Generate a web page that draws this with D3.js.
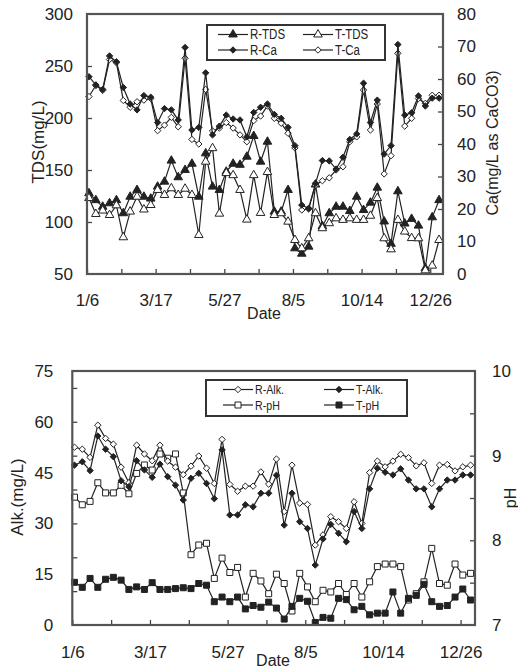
<!DOCTYPE html>
<meta charset="utf-8">
<style>
  body { margin:0; background:#fff; }
  text { font-family:'Liberation Sans', Arial, sans-serif; fill:#222; }
</style>
<script src="https://d3js.org/d3.v7.min.js"></script>
<body>
<svg id="chart" width="518" height="669"></svg>
<script>

// weekly samples, days counted from 1/6
var sampleDays = [2,9,16,23,30,37,44,51,58,65,72,79,86,93,100,107,114,121,128,135,142,149,156,163,170,177,
                  184,191,198,205,212,219,226,233,240,247,254,261,268,275,282,289,296,303,310,317,324,331,338,345,352,359]
var tickDays = [0,35,70,105,140,175,210,245,280,315,350]
var dateLabels = ["1/6","","3/17","","5/27","","8/5","","10/14","","12/26"]

// upper chart
var rTds = [127.6,121,114.7,118,121,108.4,124.3,130.8,124.3,122.5,134,138.8,159,143,150,156,124.3,166,134,130.8,148.4,156,155,162.8,182.7,158,
            177.2,110,110,130.8,74.7,69.5,76.3,136,96,108.4,114.7,114.7,110.6,124.3,111.5,118.6,133,100.5,79,129.5,98.5,103,96.5,55.5,104.5,121]
var tTds = [123,107.7,111,106.7,116,85.3,110,124.3,112,116.3,130.8,126,132.4,126,132,126,87.5,158,171,108,147,145,130.8,102.3,145,108.7,
            148,106.7,108.4,100.3,82.7,74.7,84.3,108.4,94,98.8,103.5,102,103.5,102,102,106,123,84.3,73.7,102,90.8,84.5,84.3,53.5,58,82.7]
var rCa = [60.7,58.2,56.8,67.1,65.3,57.4,52.3,50.5,54.9,54.4,46.6,50.9,50.5,47.4,69.7,44.3,45.1,61.9,42.8,45.5,48.9,47.7,47.4,42.2,49.7,51.3,
           52.3,49.1,47.9,45.1,39.5,21.2,20.2,27.9,34.9,34.8,32.3,35.9,41.4,43.1,58.7,46.6,53.5,36.9,39.5,70.6,48.9,49.6,54.8,51.7,54.1,54.1]
var tCa = [54.6,58.0,56.5,66.0,65.0,53.4,51.3,53.0,53.5,54.0,44.1,45.8,48.2,45.3,66.4,41.4,40.0,56.8,44.0,44.9,46.6,44.9,42.8,40.7,47.2,48.6,
           51.7,47.9,46.4,43.3,38.8,19.7,20.0,27.4,28.7,29.6,32.0,33.0,40.7,42.2,56.6,44.3,52.3,30.8,36.4,67.9,45.5,47.9,54.0,52.5,55.0,55.0]

// lower chart
var rAlk = [52.5,51.9,49.5,59.0,55.1,53.4,46.6,42.0,53.1,50.5,48.5,53.1,48.4,46.6,44.4,46.9,49.9,46.3,41.8,54.8,41.5,39.5,41.0,41.0,45.2,41.6,
            49.0,33.5,47.2,36.0,35.6,23.6,26.6,32.0,30.5,28.5,36.4,30.0,45.0,48.4,46.7,48.4,50.4,49.4,47.0,47.9,41.8,47.2,47.4,45.5,46.7,47.2]
var tAlk = [47.2,48.2,45.6,55.8,51.9,49.7,42.6,40.8,48.5,45.8,43.6,47.5,43.8,41.3,36.9,43.3,44.8,41.8,37.3,51.7,32.5,32.5,35.5,34.9,38.9,38.9,
            44.2,29.5,38.9,30.5,28.5,17.7,25.4,29.7,27.1,24.6,33.5,28.5,40.2,46.3,45.1,44.3,46.1,42.8,40.2,40.2,34.9,40.2,42.8,42.8,44.3,44.3]
var rPh = [8.51,8.42,8.46,8.68,8.56,8.56,8.65,8.55,8.79,8.89,8.83,9.02,8.97,9.02,8.56,7.83,7.945,7.965,7.55,7.79,7.62,7.68,7.33,7.61,7.52,7.37,
           7.6,7.49,7.165,7.61,7.45,7.275,7.41,7.39,7.49,7.36,7.49,7.33,7.51,7.69,7.72,7.72,7.69,7.295,7.37,7.51,7.905,7.49,7.47,7.72,7.59,7.61]
var tPh = [7.504,7.445,7.55,7.445,7.54,7.563,7.53,7.42,7.45,7.42,7.50,7.42,7.42,7.43,7.44,7.43,7.49,7.47,7.275,7.33,7.275,7.33,7.19,7.23,7.21,7.27,
           7.20,7.07,7.22,7.315,7.28,7.03,7.09,7.08,7.315,7.30,7.18,7.22,7.12,7.14,7.14,7.39,7.14,7.315,7.35,7.48,7.275,7.22,7.23,7.33,7.425,7.295]

var svg = d3.select("#chart")

var ink = "#222"

function drawPanel(p) {
  var g = svg.append("g")

  var x = d3.scaleLinear().domain([0, 363]).range([p.left, p.right])
  var yL = d3.scaleLinear().domain(p.leftDomain).range([p.bottom, p.top])
  var yR = d3.scaleLinear().domain(p.rightDomain).range([p.bottom, p.top])

  // x axis: inward ticks, labels every other tick
  var xa = g.append("g")
    .attr("transform", "translate(0," + p.bottom + ")")
    .call(d3.axisBottom(x).tickValues(tickDays).tickSize(-5).tickPadding(p.xPad)
      .tickFormat(function(d, i){ return dateLabels[i] }))
  xa.select(".domain").remove()

  // left axis (marks and labels may use different steps)
  var la = g.append("g").attr("transform", "translate(" + p.left + ",0)")
    .call(d3.axisLeft(yL).tickValues(p.leftMarks).tickSize(-5).tickFormat(""))
  la.select(".domain").remove()
  var ll = g.append("g").attr("transform", "translate(" + p.left + ",0)")
    .call(d3.axisLeft(yL).tickValues(p.leftLabels).tickSize(0).tickPadding(p.lPad))
  ll.select(".domain").remove()

  var ra = g.append("g").attr("transform", "translate(" + p.right + ",0)")
    .call(d3.axisRight(yR).tickValues(p.rightMarks).tickSize(-5).tickFormat(""))
  ra.select(".domain").remove()
  var rl = g.append("g").attr("transform", "translate(" + p.right + ",0)")
    .call(d3.axisRight(yR).tickValues(p.rightLabels).tickSize(0).tickPadding(p.rPad).tickFormat(d3.format("d")))
  rl.select(".domain").remove()

  g.selectAll(".tick line").attr("stroke", "#444").attr("stroke-width", 1.3)
  g.selectAll(".tick text").style("font-size", "17px").attr("fill", ink)
    .style("font-family", "'Liberation Sans', Arial, sans-serif")

  // series
  p.series.forEach(function(s) {
    var y = s.axis == "L" ? yL : yR
    var line = d3.line()
      .x(function(d, i){ return x(sampleDays[i]) })
      .y(function(d){ return y(d) })
    g.append("path").datum(s.values)
      .attr("d", line)
      .attr("fill", "none")
      .attr("stroke", ink)
      .attr("stroke-width", 1.2)
    g.selectAll(null).data(s.values).enter()
      .append("path")
      .attr("transform", function(d, i){ return "translate(" + x(sampleDays[i]) + "," + y(d) + ")" })
      .attr("d", d3.symbol().type(s.symbol).size(s.size))
      .attr("fill", s.filled ? ink : "#fff")
      .attr("stroke", ink)
      .attr("stroke-width", 1)
  })

  // frame
  g.append("rect")
    .attr("x", p.left).attr("y", p.top)
    .attr("width", p.right - p.left).attr("height", p.bottom - p.top)
    .attr("fill", "none").attr("stroke", "#555").attr("stroke-width", 2.2)

  // legend, text squeezed horizontally like a narrow face
  var lg = g.append("g").attr("class", "legend")
  lg.append("rect")
    .attr("x", p.legend.x).attr("y", p.legend.y)
    .attr("width", p.legend.w).attr("height", p.legend.h)
    .attr("fill", "#fff").attr("stroke", "#333").attr("stroke-width", 2)
  p.series.forEach(function(s) {
    var lx = p.legend.cols[s.col], ly = p.legend.rows[s.row]
    lg.append("line")
      .attr("x1", lx).attr("x2", lx + 30).attr("y1", ly).attr("y2", ly)
      .attr("stroke", ink).attr("stroke-width", 1.2)
    lg.append("path")
      .attr("transform", "translate(" + (lx + 15) + "," + ly + ")")
      .attr("d", d3.symbol().type(s.symbol).size(s.size))
      .attr("fill", s.filled ? ink : "#fff")
      .attr("stroke", ink)
    lg.append("text")
      .attr("transform", "translate(" + (lx + 32) + "," + ly + ") scale(0.82,1)")
      .attr("dy", "0.35em")
      .style("font-size", p.legend.font + "px")
      .text(s.name)
  })

  // titles
  g.append("text").attr("transform", "translate(" + p.lTitle[0] + "," + p.lTitle[1] + ") rotate(-90)")
    .attr("text-anchor", "middle").attr("dy", "0.35em").style("font-size", "17px").text(p.lTitle[2])
  g.append("text").attr("transform", "translate(" + p.rTitle[0] + "," + p.rTitle[1] + ") rotate(-90)")
    .attr("text-anchor", "middle").attr("dy", "0.35em").style("font-size", "16px").text(p.rTitle[2])
  g.append("text").attr("x", p.xTitle[0]).attr("y", p.xTitle[1])
    .attr("text-anchor", "middle").attr("dy", "0.35em").style("font-size", "16px").text("Date")
}

drawPanel({
  left: 87, right: 443, top: 14, bottom: 274,
  leftDomain: [50, 300], rightDomain: [0, 80],
  leftMarks: [100,150,200,250], leftLabels: [50,100,150,200,250,300],
  rightMarks: [10,20,30,40,50,60,70], rightLabels: [0,10,20,30,40,50,60,70,80],
  xPad: 20, lPad: 14, rPad: 14,
  lTitle: [38, 142, "TDS(mg/L)"], rTitle: [492, 143, "Ca(mg/L as CaCO3)"], xTitle: [264, 313],
  legend: { x: 207, y: 25, w: 178, h: 35, cols: [218, 303], rows: [34.5, 50], font: 14 },
  series: [
    { name: "R-TDS", values: rTds, axis: "L", symbol: d3.symbolTriangle, size: 32, filled: true, col: 0, row: 0 },
    { name: "T-TDS", values: tTds, axis: "L", symbol: d3.symbolTriangle, size: 32, filled: false, col: 1, row: 0 },
    { name: "T-Ca", values: tCa, axis: "R", symbol: d3.symbolDiamond2, size: 26, filled: false, col: 1, row: 1 },
    { name: "R-Ca", values: rCa, axis: "R", symbol: d3.symbolDiamond2, size: 26, filled: true, col: 0, row: 1 }
  ]
})

drawPanel({
  left: 72.3, right: 475, top: 371, bottom: 625,
  leftDomain: [0, 75], rightDomain: [7, 10],
  leftMarks: [10,20,30,40,50,60,70], leftLabels: [0,15,30,45,60,75],
  rightMarks: [7.5,8,8.5,9,9.5], rightLabels: [7,8,9,10],
  xPad: 21, lPad: 19, rPad: 17,
  lTitle: [17, 497, "Alk.(mg/L)"], rTitle: [510, 498, "pH"], xTitle: [273, 660],
  legend: { x: 206, y: 380, w: 201, h: 36, cols: [223, 324], rows: [389.5, 405], font: 13 },
  series: [
    { name: "R-pH", values: rPh, axis: "R", symbol: d3.symbolSquare, size: 36, filled: false, col: 0, row: 1 },
    { name: "T-pH", values: tPh, axis: "R", symbol: d3.symbolSquare, size: 36, filled: true, col: 1, row: 1 },
    { name: "R-Alk.", values: rAlk, axis: "L", symbol: d3.symbolDiamond2, size: 26, filled: false, col: 0, row: 0 },
    { name: "T-Alk.", values: tAlk, axis: "L", symbol: d3.symbolDiamond2, size: 26, filled: true, col: 1, row: 0 }
  ]
})

</script>
</body>
